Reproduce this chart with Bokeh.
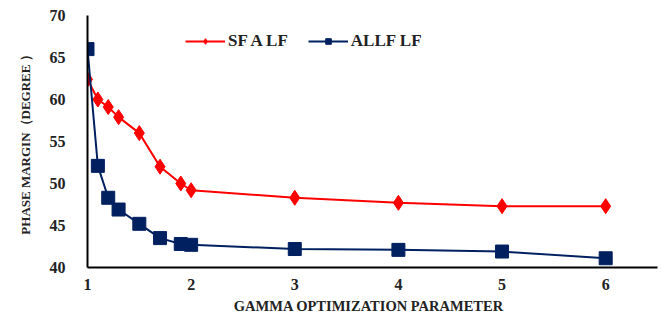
from bokeh.plotting import figure
from bokeh.models import Range1d, FixedTicker, Legend, LegendItem
from bokeh.embed import file_html
from bokeh.resources import INLINE

gamma = [1.0, 1.1, 1.2, 1.3, 1.5, 1.7, 1.9, 2.0, 3, 4, 5, 6]
sfa_lf = [62.4, 60.0, 59.1, 57.9, 56.0, 52.0, 50.0, 49.2, 48.3, 47.7, 47.3, 47.3]
allf_lf = [66.0, 52.1, 48.3, 46.9, 45.2, 43.5, 42.8, 42.7, 42.2, 42.1, 41.9, 41.1]
x_ticks = [1, 2, 3, 4, 5, 6]
y_ticks = [40, 45, 50, 55, 60, 65, 70]

RED = "#FF0000"
NAVY = "#002060"
FONT = "Liberation Serif"

p = figure(width=660, height=316, output_backend="svg", toolbar_location=None,
           x_range=Range1d(1, 6.5), y_range=Range1d(40, 70),
           min_border_left=87, min_border_right=3, min_border_top=15, min_border_bottom=48)
p.outline_line_color = None
p.xgrid.grid_line_color = None
p.ygrid.grid_line_color = None

r1 = p.line(gamma, sfa_lf, color=RED, line_width=2)
s1 = p.scatter(gamma, sfa_lf, marker="diamond", size=15, color=RED)
r2 = p.line(gamma, allf_lf, color=NAVY, line_width=2)
s2 = p.scatter(gamma, allf_lf, marker="square", size=13, color=NAVY)

for ax in (p.xaxis[0], p.yaxis[0]):
    ax.axis_line_color = "black"
    ax.axis_line_width = 2
    ax.major_tick_line_color = None
    ax.minor_tick_line_color = None
    ax.major_label_text_font = FONT
    ax.major_label_text_font_style = "bold"
    ax.major_label_text_font_size = "16px"
    ax.major_label_text_color = "#222222"
    ax.axis_label_text_font = FONT
    ax.axis_label_text_font_style = "bold"
    ax.axis_label_text_color = "#222222"

p.xaxis.ticker = FixedTicker(ticks=x_ticks)
p.yaxis.ticker = FixedTicker(ticks=y_ticks)
p.xaxis.major_label_standoff = 5
p.yaxis.major_label_standoff = 16
p.xaxis.axis_label = "GAMMA  OPTIMIZATION  PARAMETER"
p.xaxis.axis_label_text_font_size = "14.5px"
p.xaxis.axis_label_standoff = 5
p.yaxis.axis_label = "PHASE MARGIN（DEGREE ）"
p.yaxis.axis_label_text_font_size = "13px"
p.yaxis.axis_label_standoff = 14

legend = Legend(items=[LegendItem(label="SF A LF", renderers=[r1, s1]),
                       LegendItem(label="ALLF LF", renderers=[r2, s2])],
                orientation="horizontal", location=(98, 216),
                background_fill_alpha=0, border_line_color=None,
                label_text_font=FONT, label_text_font_style="bold",
                label_text_font_size="17px", label_text_color="#222222",
                glyph_width=40, glyph_height=14, spacing=20, label_standoff=3,
                padding=2, margin=0)
p.add_layout(legend, "center")

open("out.html", "w").write(file_html(p, INLINE))
